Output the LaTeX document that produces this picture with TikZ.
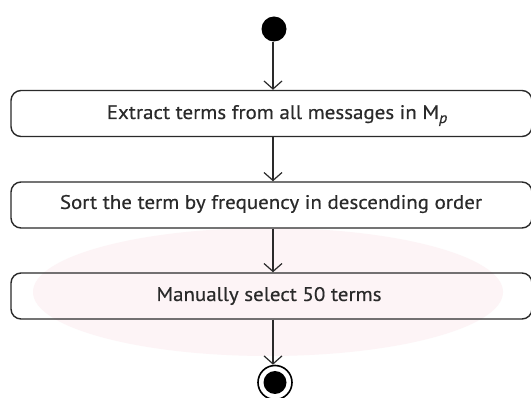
\documentclass[tikz,border=0pt]{standalone}
\usepackage{fontspec}
\setmainfont{PT Sans}[FakeStretch=1.07,FakeBold=0.4]
\usetikzlibrary{arrows.meta}
\definecolor{ink}{HTML}{2A2A2A}
\definecolor{wmpink}{HTML}{FDF4F6}
\newcommand{\lowsub}[1]{\raisebox{-4pt}{\fontsize{15}{16}\selectfont\itshape #1}}
\begin{document}
\begin{tikzpicture}[x=1pt,y=-1pt,
  action/.style={draw=ink,line width=1.4pt,rounded corners=10pt,
    minimum width=521pt,minimum height=46pt,inner sep=0pt},
  label/.style={text=ink,font=\fontsize{19.6}{21}\selectfont},
  flow/.style={draw=ink,line width=1.2pt,
    -{Straight Barb[length=8pt,width=18pt,line width=1.2pt]}},
  startdot/.style={circle,fill=black,minimum size=25pt,inner sep=0pt},
  enddot/.style={circle,draw=black,line width=1.6pt,fill=white,minimum size=34pt,inner sep=0pt,
    path picture={\fill[black] (path picture bounding box.center) circle[radius=11.5pt];}}]
\useasboundingbox (0,0) rectangle (531,398);
\clip (0,0) rectangle (531,398);
\fill[white] (0,0) rectangle (531,398);
% faint background emblem
\fill[wmpink] (268,292) ellipse[x radius=235pt,y radius=64pt];
% activity flow
\node[startdot] (s) at (274,29) {};
\node[action] (a1) at (271.5,113.5) {};
\node[label,anchor=base] at (277,119) {Extract terms from all messages in M\lowsub{p}};
\node[action] (a2) at (271.5,205) {};
\node[label] at (271,204) {Sort the term by frequency in descending order};
\node[action] (a3) at (271.5,296) {};
\node[label] at (269,296) {Manually select 50 terms};
\node[enddot] (e) at (275,382.5) {};
\draw[flow] (s.south -| 273,0) -- (a1.north -| 273,0);
\draw[flow] (a1.south -| 273,0) -- (a2.north -| 273,0);
\draw[flow] (a2.south -| 273,0) -- (a3.north -| 273,0);
\draw[flow] (a3.south -| 273,0) -- (e.north -| 273,0);
\end{tikzpicture}
\end{document}
